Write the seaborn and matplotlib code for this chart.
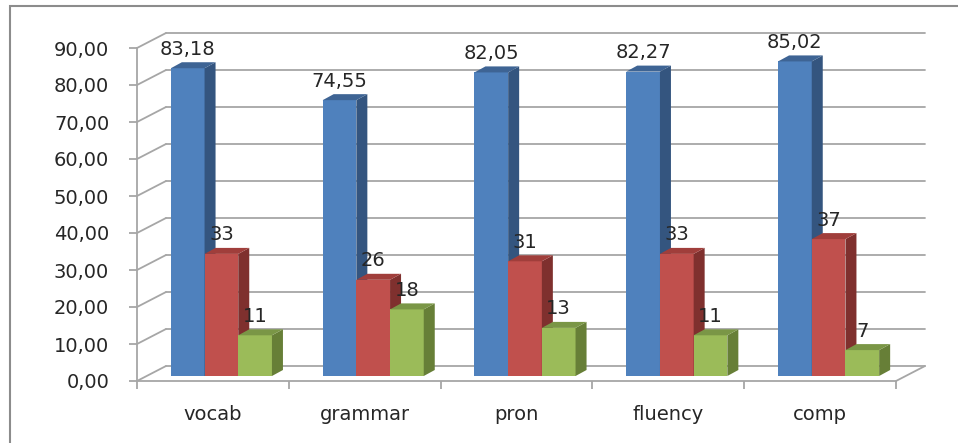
import pandas as pd
import matplotlib
matplotlib.use("Agg")
import matplotlib.pyplot as plt
from matplotlib.patches import Polygon, Rectangle
from matplotlib.ticker import FuncFormatter, FixedLocator
import seaborn as sns

# data
skills = ["vocab", "grammar", "pron", "fluency", "comp"]
series_a = [83.18, 74.55, 82.05, 82.27, 85.02]
series_b = [33, 26, 31, 33, 37]
series_c = [11, 18, 13, 11, 7]
series_names = ["a", "b", "c"]
yticks = [0, 10, 20, 30, 40, 50, 60, 70, 80, 90]

front = ["#4F81BD", "#C0504D", "#9BBB59"]
side = ["#34557F", "#7F302E", "#677F37"]
top = ["#3E6494", "#A03E3B", "#7A9646"]
grid_c = "#A6A6A6"
txt_c = "#262626"

df = pd.DataFrame({
    "skill": skills * 3,
    "value": series_a + series_b + series_c,
    "series": [s for s in series_names for _ in skills],
})

sns.set_style("white")
plt.rcParams["font.family"] = ["DejaVu Sans"]

fig = plt.figure(figsize=(9.58, 4.43), dpi=100)
W, H = 958, 443
# outer chart frame
fig.add_artist(Rectangle((10 / W, -0.2), 1.2, 1.2 - 6 / H, transform=fig.transFigure,
                         fill=False, edgecolor="#8C8C8C", lw=1.5))

ax = fig.add_axes([137 / W, 62 / H, 759 / W, 333 / H])
sns.barplot(data=df, x="skill", y="value", hue="series", palette=front,
            width=0.666, saturation=1, legend=False, ax=ax, errorbar=None)
ax.set_xlim(-0.5, 4.5)
ax.set_ylim(0, 90)

# pixel -> data scales for the fake 3D offsets
px_x = 759 / 5
px_y = 333 / 90
wdx, wdy = 29 / px_x, 15 / px_y      # back wall depth
sx, sy = 8.5 / px_x, 5 / px_y        # bar front face shift
bdx, bdy = 11 / px_x, 6 / px_y       # bar depth

# back wall gridlines + left wall diagonals
for v in yticks:
    ax.plot([-0.5, -0.5 + wdx], [v, v + wdy], color=grid_c, lw=1.3, clip_on=False, zorder=1)
    ax.plot([-0.5 + wdx, 4.5 + wdx], [v + wdy, v + wdy], color=grid_c, lw=1.3,
            clip_on=False, zorder=1)
# floor right edge
ax.plot([4.5, 4.5 + wdx], [0, wdy], color=grid_c, lw=1.3, clip_on=False, zorder=1)

for k, cont in enumerate(ax.containers):
    z = 3 + k
    for p in cont.patches:
        p.set_x(p.get_x() + sx)
        p.set_y(sy)
        p.set_zorder(z)
        p.set_edgecolor("none")
        x0 = p.get_x()
        x1 = x0 + p.get_width()
        y0 = sy
        y1 = sy + p.get_height()
        ax.add_patch(Polygon([(x1, y0), (x1 + bdx, y0 + bdy), (x1 + bdx, y1 + bdy), (x1, y1)],
                             closed=True, facecolor=side[k], edgecolor="none",
                             zorder=z, clip_on=False))
        ax.add_patch(Polygon([(x0, y1), (x1, y1), (x1 + bdx, y1 + bdy), (x0 + bdx, y1 + bdy)],
                             closed=True, facecolor=top[k], edgecolor="none",
                             zorder=z, clip_on=False))
        val = p.get_height()
        lab = f"{val:.2f}".replace(".", ",") if k == 0 else f"{val:.0f}"
        ax.annotate(lab, (x0 + p.get_width() / 2, y1 + bdy), xytext=(0, 2.5),
                    textcoords="offset points", ha="center", va="bottom",
                    fontsize=14, color=txt_c, zorder=10, annotation_clip=False)

# axes styling
for s in ["top", "right"]:
    ax.spines[s].set_visible(False)
for s in ["left", "bottom"]:
    ax.spines[s].set_color(grid_c)
    ax.spines[s].set_linewidth(1.3)
    ax.spines[s].set_zorder(2)

ax.set_yticks(yticks)
ax.yaxis.set_major_formatter(FuncFormatter(lambda v, _: f"{v:.2f}".replace(".", ",")))
ax.tick_params(axis="y", length=6, width=1.3, color=grid_c, pad=14,
               labelsize=14, labelcolor=txt_c, left=True)
ax.xaxis.set_minor_locator(FixedLocator([-0.5, 0.5, 1.5, 2.5, 3.5, 4.5]))
ax.tick_params(axis="x", which="major", length=0, pad=17, labelsize=14, labelcolor=txt_c)
ax.tick_params(axis="x", which="minor", length=6, width=1.3, color=grid_c, bottom=True)
ax.set_xlabel("")
ax.set_ylabel("")
ax.patch.set_alpha(0)

fig.savefig("out.png", dpi=100)
